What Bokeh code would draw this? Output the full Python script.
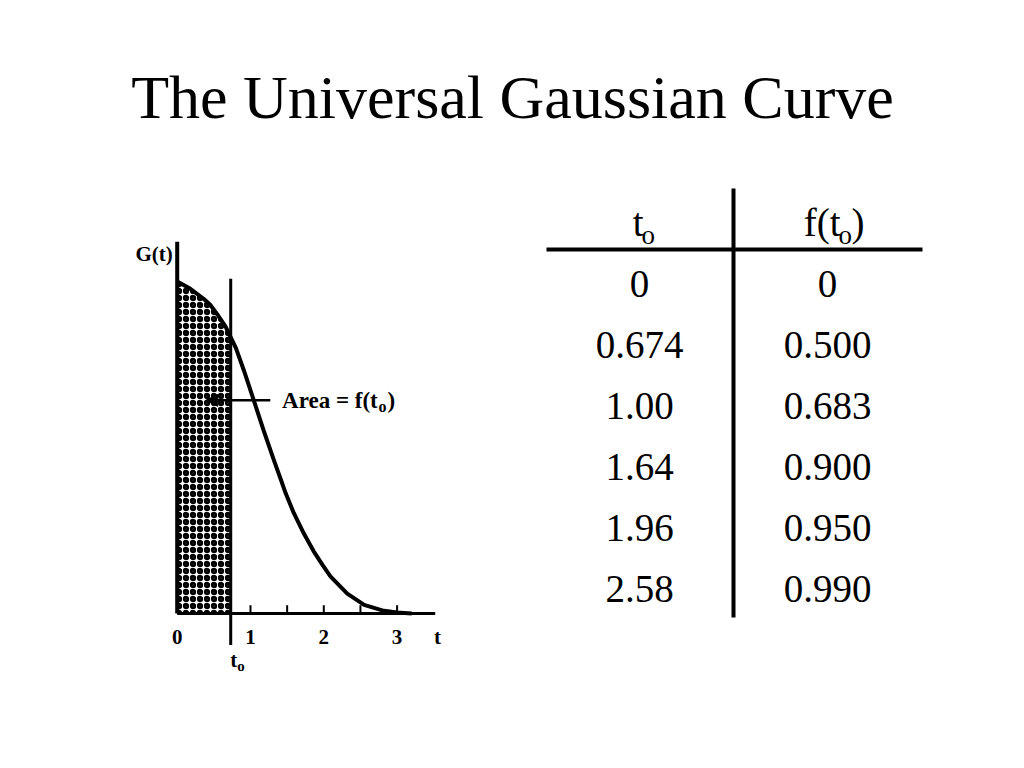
from bokeh.plotting import figure
from bokeh.models import Range1d, Arrow, NormalHead
from bokeh.core.properties import value
from bokeh.embed import file_html
from bokeh.resources import INLINE

# ---------------- data ----------------
title_text = "The Universal Gaussian Curve"

# Curve G(t)
t_curve = [0.0, 0.18, 0.36, 0.45, 0.55, 0.66, 0.80, 0.91, 1.045, 1.18, 1.32, 1.41,
           1.48, 1.59, 1.73, 1.86, 1.98, 2.09, 2.32, 2.55, 2.82, 3.00, 3.20]
g_curve = [1.0, 0.978, 0.948, 0.930, 0.900, 0.864, 0.800, 0.732, 0.642, 0.551, 0.461, 0.406,
           0.362, 0.303, 0.240, 0.188, 0.147, 0.112, 0.060, 0.026, 0.008, 0.003, 0.0]

# Shaded area from 0 to t0
t0 = 0.73
t_fill = [0.0, 0.18, 0.36, 0.45, 0.55, 0.66, 0.73]
g_fill = [1.0, 0.978, 0.948, 0.930, 0.900, 0.864, 0.832]

tick_t = [1.0, 1.5, 2.0, 2.5, 3.0]
label_t = [0, 1, 2, 3]
label_text = ["0", "1", "2", "3"]

table_t0 = ["0", "0.674", "1.00", "1.64", "1.96", "2.58"]
table_f = ["0", "0.500", "0.683", "0.900", "0.950", "0.990"]

# ---------------- figure ----------------
W, H = 1008, 752
p = figure(width=W, height=H, x_range=Range1d(0, W), y_range=Range1d(H, 0),
           output_backend="svg", toolbar_location=None, min_border=0,
           x_axis_type=None, y_axis_type=None)
p.grid.visible = False
p.outline_line_color = None
p.background_fill_color = "white"
p.border_fill_color = "white"

# data ranges for the Gaussian sketch (t horizontally, G vertically)
px_t0, px_per_t = 176.7, 73.3
py_g0, py_per_g = 613.0, 332.0
p.extra_x_ranges = {"t": Range1d((0 - px_t0) / px_per_t, (W - px_t0) / px_per_t)}
p.extra_y_ranges = {"G": Range1d((py_g0 - H) / py_per_g, (py_g0 - 0) / py_per_g)}
R = dict(x_range_name="t", y_range_name="G")

serif = value("Liberation Serif")

# title
p.text(x=[512], y=[96], text=[title_text], text_font=serif, text_font_size="62px",
       text_align="center", text_baseline="middle", text_color="black")

# ---------------- Gaussian sketch ----------------
p.varea(x=t_fill, y1=[0] * len(t_fill), y2=g_fill, fill_color="white",
        hatch_pattern="ring", hatch_color="black", hatch_scale=7, hatch_weight=2.8, **R)

# axes
p.segment(x0=[0], y0=[0], x1=[0], y1=[1.12], line_color="black", line_width=4, **R)
p.segment(x0=[0], y0=[0], x1=[3.52], y1=[0], line_color="black", line_width=3, **R)
p.segment(x0=tick_t, y0=[0] * len(tick_t), x1=tick_t, y1=[0.025] * len(tick_t),
          line_color="black", line_width=2, **R)
# t0 line
p.segment(x0=[t0], y0=[-0.095], x1=[t0], y1=[1.008], line_color="black", line_width=3, **R)

# curve
p.line(t_curve, g_curve, line_color="black", line_width=4, line_join="round", **R)

# arrow to area
p.add_layout(Arrow(end=NormalHead(size=12, fill_color="black", line_color="black"),
                   x_start=1.27, y_start=0.642, x_end=0.39, y_end=0.642,
                   line_color="black", line_width=2.5, **R))

lab = dict(text_font=serif, text_font_style="bold", text_color="black")
p.text(x=[1.43], y=[0.642], text=["Area = f(t"], text_font_size="23px",
       text_align="left", text_baseline="middle", **lab, **R)
p.text(x=[2.745], y=[0.622], text=["o"], text_font_size="16px",
       text_align="left", text_baseline="middle", **lab, **R)
p.text(x=[2.87], y=[0.642], text=[")"], text_font_size="23px",
       text_align="left", text_baseline="middle", **lab, **R)

p.text(x=[-0.06], y=[1.084], text=["G(t)"], text_font_size="21px",
       text_align="right", text_baseline="middle", **lab, **R)

p.text(x=label_t, y=[-0.07] * len(label_t), text=label_text, text_font_size="21px",
       text_align="center", text_baseline="middle", **lab, **R)
p.text(x=[3.55], y=[-0.07], text=["t"], text_font_size="21px",
       text_align="center", text_baseline="middle", **lab, **R)
p.text(x=[t0 + 0.04], y=[-0.14], text=["t"], text_font_size="21px",
       text_align="center", text_baseline="middle", **lab, **R)
p.text(x=[t0 + 0.09], y=[-0.158], text=["o"], text_font_size="15px",
       text_align="left", text_baseline="middle", **lab, **R)

# ---------------- table ----------------
col1_x, col2_x = 639, 827
row_y = [283 + 61 * i for i in range(len(table_t0))]

p.segment(x0=[733], y0=[188], x1=[733], y1=[617], line_color="black", line_width=4)
p.segment(x0=[546], y0=[249], x1=[922], y1=[249], line_color="black", line_width=4)

p.text(x=[col1_x] * len(table_t0), y=row_y, text=table_t0, text_font=serif,
       text_font_size="39px", text_align="center", text_baseline="middle")
p.text(x=[col2_x] * len(table_f), y=row_y, text=table_f, text_font=serif,
       text_font_size="39px", text_align="center", text_baseline="middle")

# headers: t_o and f(t_o)
p.text(x=[643], y=[222], text=["t"], text_font=serif, text_font_size="39px",
       text_align="right", text_baseline="middle")
p.text(x=[641], y=[234], text=["o"], text_font=serif, text_font_size="27px",
       text_align="left", text_baseline="middle")
p.text(x=[840], y=[222], text=["f(t"], text_font=serif, text_font_size="39px",
       text_align="right", text_baseline="middle")
p.text(x=[838], y=[234], text=["o"], text_font=serif, text_font_size="27px",
       text_align="left", text_baseline="middle")
p.text(x=[851], y=[222], text=[")"], text_font=serif, text_font_size="39px",
       text_align="left", text_baseline="middle")

open("out.html", "w").write(file_html(p, INLINE))
